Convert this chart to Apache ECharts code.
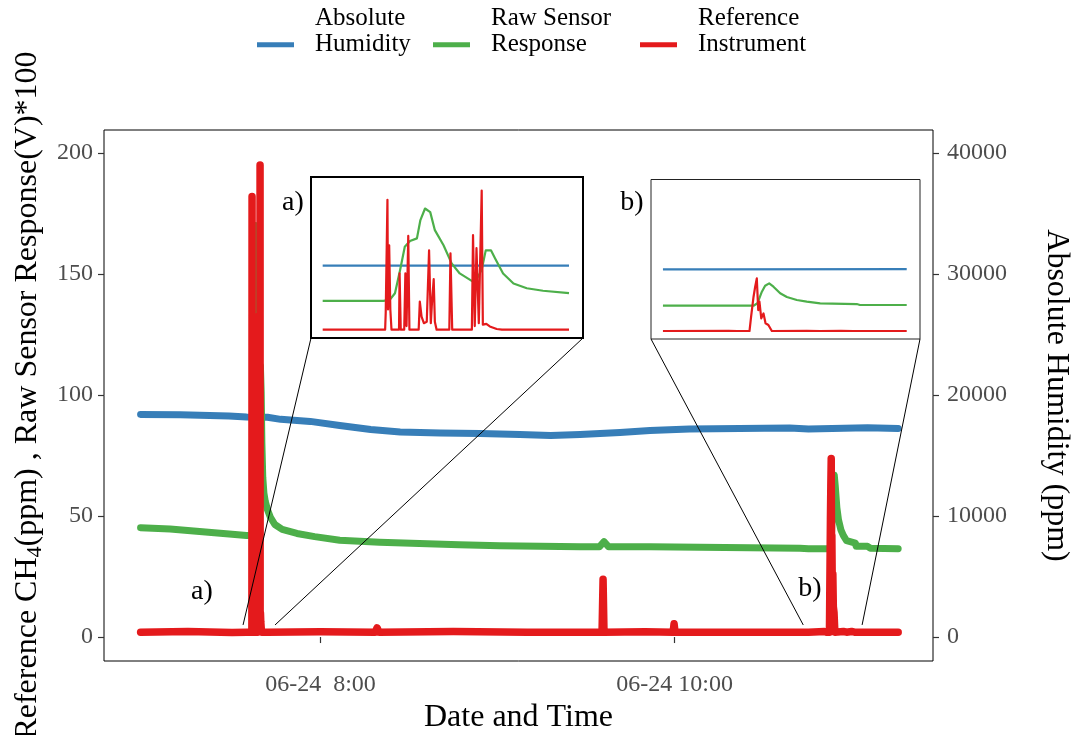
<!DOCTYPE html>
<html>
<head>
<meta charset="utf-8">
<script src="https://cdn.jsdelivr.net/npm/echarts@6/dist/echarts.min.js"></script>
<style>html,body{margin:0;padding:0;background:#fff}#chart{width:1079px;height:735px}</style>
</head>
<body>
<div id="chart"></div>
<script>
// ---------- DATA ----------
const seriesNames = ['Absolute Humidity', 'Raw Sensor Response', 'Reference Instrument'];
const legendLabels = ['Absolute\nHumidity', 'Raw Sensor\nResponse', 'Reference\nInstrument'];

const humidityTimes = ['06:59:00','07:12:30','07:29:00','07:34:55','07:42:01','07:46:30','07:56:30','08:06:30','08:17:00','08:27:00','08:40:30','08:54:00','09:07:30','09:18:00','09:28:00','09:41:30','09:51:40','10:05:00','10:22:00','10:39:00','10:45:24','10:49:25','10:49:30','11:05:24','11:15:48'];
const humidityPpm   = [18400,18360,18270,18180,18160,17990,17820,17480,17150,16950,16870,16830,16740,16660,16740,16910,17070,17200,17240,17280,17200,17220,17300,17300,17240];

const sensorTimes = ['06:59:00','07:09:00','07:19:00','07:29:00','07:34:55','07:36:40','07:36:51','07:37:00','07:37:09','07:37:17','07:37:26','07:37:38','07:37:44','07:37:52','07:38:01','07:38:09','07:38:24','07:38:38','07:38:52','07:39:10','07:39:18','07:39:30','07:39:37','07:39:46','07:39:53','07:40:07','07:40:25','07:40:48','07:41:16','07:42:01','07:43:00','07:44:30','07:47:00','07:52:00','07:58:00','08:06:30','08:20:00','08:33:30','08:47:00','09:00:45','09:14:30','09:28:00','09:34:30','09:36:05','09:37:40','09:51:40','10:08:30','10:25:30','10:42:30','10:45:24','10:52:50','10:53:09','10:53:31','10:53:47','10:54:07','10:54:28','10:55:01','10:55:34','10:56:23','10:57:12','10:58:18','11:01:18','11:01:34','11:05:24','11:06:20','11:15:48'];
const sensorResponse = [45.2,44.6,43.6,42.6,42,42,43.4,52.6,85,117,125,128.6,154,170,165,140,119,94,80,71,67,85,112,112,101,80,66,59.5,56,52.6,49.5,46.5,44.5,42.8,41.5,40,39.2,38.6,38.1,37.7,37.5,37.3,37.3,39.4,37.3,37.3,37.1,36.9,36.7,36.5,36.5,39.8,55.6,63.8,67,62.4,53.4,48.4,44.3,42,39.8,38.8,37.5,37.5,36.7,36.5];

const referenceTimes = ['06:59:00','07:15:00','07:30:00','07:34:55','07:36:43','07:36:44','07:36:47','07:36:48','07:36:50','07:36:52','07:36:54','07:37:07','07:37:08','07:37:10','07:37:16','07:37:18','07:37:20','07:37:23','07:37:25','07:37:41','07:37:43','07:37:46','07:37:50','07:37:55','07:37:59','07:38:02','07:38:04','07:38:07','07:38:09','07:38:12','07:38:34','07:38:36','07:38:39','07:39:13','07:39:15','07:39:18','07:39:21','07:39:25','07:39:30','07:39:32','07:39:38','07:39:44','07:39:56','07:40:05','07:42:01','08:00:00','08:18:30','08:19:10','08:19:50','08:45:00','09:10:00','09:35:25','09:35:46','09:36:05','09:50:00','09:59:30','09:59:50','10:00:10','10:20:00','10:45:24','10:50:47','10:51:30','10:52:30','10:52:38','10:52:50','10:52:58','10:53:06','10:53:13','10:53:19','10:53:28','10:53:39','10:53:49','10:54:03','10:54:20','10:57:12','10:58:17','11:00:00','11:01:00','11:05:24','11:15:48'];
const referencePpm = [2,2.3,1.9,2,2,25,182,30,119,30,2,2,80,2,2,80,7,132,2,2,41,20,11,13,112,11,39,72,13,2,2,108,2,2,133,7,115,11,195,9,10,6.5,3,2,2,2.2,2,3.8,2,2.3,2,2,23.9,2,2.2,2,5.5,2,2,2,2.3,2,2,21.5,48.8,62.4,73.8,30.6,42,19.3,26,12.5,10.2,2,2.3,2,2.3,2,2,2];

const xTickTimes  = ['08:00:00', '10:00:00'];
const xTickLabels = ['06-24  8:00', '06-24 10:00'];
const leftTicks  = [0, 50, 100, 150, 200];
const rightTicks = [0, 10000, 20000, 30000, 40000];

const insetWindows   = [['07:34:55', '07:42:01'], ['10:45:24', '11:05:24']];
const connectorTimes = [['07:33:44', '07:44:35'], ['10:43:37', '11:03:34']];
const colors = ['#377EB8', '#4DAF4A', '#E41A1C'];

// ---------- HELPERS ----------
const FONT = 'Liberation Serif';
function toMin(s) { const p = s.split(':').map(Number); return p[0] * 60 + p[1] + (p[2] || 0) / 60; }
function pairs(times, vals, win) {
  let d = times.map((t, i) => [toMin(t), vals[i]]);
  if (win) { const a = toMin(win[0]) - 1e-6, b = toMin(win[1]) + 1e-6; d = d.filter(p => p[0] >= a && p[0] <= b); }
  return d;
}
const tickMins = xTickTimes.map(toMin);

const gridMain = { left: 104, top: 130, width: 829, height: 531, show: true, borderColor: '#000', borderWidth: 1, backgroundColor: 'transparent', containLabel: false, outerBoundsMode: 'none' };
const gridA = { left: 311, top: 177, width: 272, height: 161, show: true, borderColor: '#000', borderWidth: 2, backgroundColor: '#fff', containLabel: false, outerBoundsMode: 'none' };
const gridB = { left: 651, top: 179.5, width: 269, height: 159.5, show: true, borderColor: '#222', borderWidth: 1, backgroundColor: '#fff', containLabel: false, outerBoundsMode: 'none' };

function hiddenX(idx, min, max) { return { type: 'value', gridIndex: idx, min, max, show: false }; }
function hiddenY(idx, min, max) { return { type: 'value', gridIndex: idx, min, max, show: false }; }

const datasets = [
  [humidityTimes, humidityPpm],
  [sensorTimes, sensorResponse],
  [referenceTimes, referencePpm]
];
const mainWidths = [7, 7, 7.5];

const series = [];
datasets.forEach((d, i) => {
  series.push({
    name: seriesNames[i], type: 'line', xAxisIndex: 0, yAxisIndex: i === 0 ? 1 : 0,
    data: pairs(d[0], d[1]), showSymbol: false, symbol: 'none', animation: false,
    lineStyle: { color: colors[i], width: mainWidths[i], cap: 'round', join: 'round' },
    itemStyle: { color: colors[i] }, z: 2 + i
  });
});
insetWindows.forEach((win, k) => {
  datasets.forEach((d, i) => {
    series.push({
      name: seriesNames[i], type: 'line', xAxisIndex: k + 1, yAxisIndex: 2 + 2 * k + (i === 0 ? 1 : 0),
      data: pairs(d[0], d[1], win), showSymbol: false, symbol: 'none', animation: false,
      lineStyle: { color: colors[i], width: 2.2, join: 'round' },
      itemStyle: { color: colors[i] }, z: 5 + i
    });
  });
});

const legendLefts = [257, 433, 640];
const legends = seriesNames.map((n, i) => ({
  data: [{ name: n, icon: 'rect' }], left: legendLefts[i], top: 5, padding: 0,
  itemWidth: 37, itemHeight: 5, selectedMode: false,
  formatter: () => legendLabels[i] + '\n ',
  textStyle: { fontFamily: FONT, fontSize: 25, lineHeight: 26.5, color: '#000', padding: [0, 0, 0, 16] }
}));

const option = {
  animation: false,
  backgroundColor: '#fff',
  legend: legends,
  grid: [gridMain, gridA, gridB],
  xAxis: [
    {
      type: 'value', gridIndex: 0, min: 406.6, max: 687.6,
      axisLine: { show: false },
      axisTick: { show: true, customValues: tickMins, length: 6, lineStyle: { color: '#333', width: 1.2 } },
      axisLabel: { customValues: tickMins, margin: 12, fontFamily: FONT, fontSize: 24, color: '#4D4D4D',
        formatter: v => { const i = tickMins.findIndex(t => Math.abs(t - v) < 1e-6); return i >= 0 ? xTickLabels[i] : ''; } },
      splitLine: { show: false },
      name: 'Date and Time', nameLocation: 'middle', nameGap: 41,
      nameTextStyle: { fontFamily: FONT, fontSize: 32, color: '#000' }
    },
    hiddenX(1, 454.58, 462.42),
    hiddenX(2, 644.42, 666.49)
  ],
  yAxis: [
    {
      type: 'value', gridIndex: 0, position: 'left', min: -9.9, max: 209.5,
      axisLine: { show: false },
      axisTick: { show: true, customValues: leftTicks, length: 6, lineStyle: { color: '#333', width: 1.2 } },
      axisLabel: { customValues: leftTicks, margin: 11, fontFamily: FONT, fontSize: 24, color: '#4D4D4D' },
      splitLine: { show: false },
      name: '{a|Reference CH}{s|4}{a|(ppm) , Raw Sensor Response(V)*100}',
      nameLocation: 'middle', nameGap: 58,
      nameTextStyle: {
        fontFamily: FONT, fontSize: 32, color: '#000',
        rich: {
          a: { fontFamily: FONT, fontSize: 32, color: '#000', lineHeight: 36 },
          s: { fontFamily: FONT, fontSize: 22, color: '#000', lineHeight: 14, verticalAlign: 'bottom' }
        }
      }
    },
    {
      type: 'value', gridIndex: 0, position: 'right', min: -1980, max: 41900,
      axisLine: { show: false },
      axisTick: { show: true, customValues: rightTicks, length: 6, lineStyle: { color: '#333', width: 1.2 } },
      axisLabel: { customValues: rightTicks, margin: 14, fontFamily: FONT, fontSize: 24, color: '#4D4D4D', formatter: v => String(Math.round(v)) },
      splitLine: { show: false },
      name: 'Absolute Humidity (ppm)', nameLocation: 'middle', nameGap: 107, nameRotate: -90,
      nameTextStyle: { fontFamily: FONT, fontSize: 32, color: '#000' }
    },
    hiddenY(1, -9.5, 213.7), hiddenY(1, -1900, 42740),
    hiddenY(2, -8.9, 208.7), hiddenY(2, -1780, 41740)
  ],
  series
};

const chart = echarts.init(document.getElementById('chart'), null, { renderer: 'canvas' });
chart.setOption(option);

// ---------- ANNOTATIONS (zoom connectors and labels) ----------
const insetGrids = [gridA, gridB];
const elements = [];
connectorTimes.forEach((pair, k) => {
  const g = insetGrids[k];
  const bottom = g.top + g.height;
  const p0 = chart.convertToPixel({ xAxisIndex: 0, yAxisIndex: 0 }, [toMin(pair[0]), 5]);
  const p1 = chart.convertToPixel({ xAxisIndex: 0, yAxisIndex: 0 }, [toMin(pair[1]), 5]);
  elements.push({ type: 'line', z: 100, shape: { x1: g.left, y1: bottom, x2: p0[0], y2: p0[1] }, style: { stroke: '#000', lineWidth: 1 } });
  elements.push({ type: 'line', z: 100, shape: { x1: g.left + g.width, y1: bottom, x2: p1[0], y2: p1[1] }, style: { stroke: '#000', lineWidth: 1 } });
});
const annot = [['a)', 202, 592], ['a)', 293, 203], ['b)', 810, 589], ['b)', 632, 203]];
annot.forEach(a => elements.push({ type: 'text', z: 100, x: a[1], y: a[2],
  style: { text: a[0], fontFamily: FONT, fontSize: 28, fill: '#000', align: 'center', verticalAlign: 'middle' } }));
chart.setOption({ graphic: elements });
</script>
</body>
</html>
